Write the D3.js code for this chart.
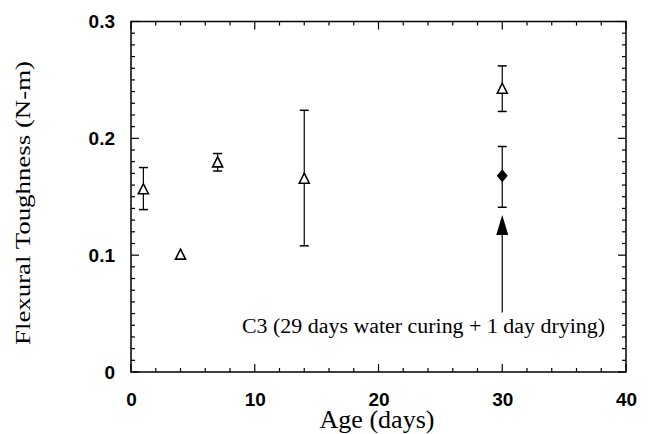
<!DOCTYPE html>
<html>
<head>
<meta charset="utf-8">
<script src="https://cdn.jsdelivr.net/npm/d3@7"></script>
<style>
  body { margin: 0; background: #fff; }
</style>
</head>
<body>
<div id="chart"></div>
<script>
// open triangles: water cured specimens
var ages = [1, 4, 7, 14, 30];
var toughness = [0.156, 0.100, 0.179, 0.165, 0.242];
var errHigh = [0.175, 0.101, 0.187, 0.224, 0.262];
var errLow = [0.139, 0.099, 0.172, 0.108, 0.223];

// filled diamond at 30 days
var diamondAge = [30];
var diamondVal = [0.168];
var diamondHigh = [0.193];
var diamondLow = [0.141];

// C3 filled triangle (29 days water curing + 1 day drying)
var c3Age = [30];
var c3Val = [0.125];
var c3Low = [0.051];

var xTicks = [0, 10, 20, 30, 40];
var yTicks = [0, 0.1, 0.2, 0.3];

var width = 652, height = 434;
var plotLeft = 131, plotRight = 626, plotTop = 21.5, plotBottom = 372;

var svg = d3.select("#chart").append("svg")
  .attr("width", width)
  .attr("height", height);

var xScale = d3.scaleLinear().domain([0, 40]).range([plotLeft, plotRight]);
var yScale = d3.scaleLinear().domain([0, 0.3]).range([plotBottom, plotTop]);

// frame
svg.append("rect")
  .attr("x", plotLeft).attr("y", plotTop)
  .attr("width", plotRight - plotLeft).attr("height", plotBottom - plotTop)
  .attr("fill", "none").attr("stroke", "#000").attr("stroke-width", 1.5);

// inward ticks on all four sides
var xMinor = d3.range(0, 41, 2);
var yMinor = d3.range(0, 31, 1).map(function(d){ return d / 100; });

xMinor.forEach(function(d){
  var len = d % 10 === 0 ? 8 : 4;
  svg.append("line")
    .attr("x1", xScale(d)).attr("x2", xScale(d))
    .attr("y1", plotBottom).attr("y2", plotBottom - len)
    .attr("stroke", "#000").attr("stroke-width", 1.2);
  svg.append("line")
    .attr("x1", xScale(d)).attr("x2", xScale(d))
    .attr("y1", plotTop).attr("y2", plotTop + len)
    .attr("stroke", "#000").attr("stroke-width", 1.2);
});

yMinor.forEach(function(d, i){
  var len = i % 10 === 0 ? 8 : 4;
  svg.append("line")
    .attr("x1", plotLeft).attr("x2", plotLeft + len)
    .attr("y1", yScale(d)).attr("y2", yScale(d))
    .attr("stroke", "#000").attr("stroke-width", 1.2);
  svg.append("line")
    .attr("x1", plotRight).attr("x2", plotRight - len)
    .attr("y1", yScale(d)).attr("y2", yScale(d))
    .attr("stroke", "#000").attr("stroke-width", 1.2);
});

// tick labels
var tickFont = "'Liberation Sans', Arial, sans-serif";
var xAxis = d3.axisBottom(xScale).tickValues(xTicks).tickSize(0).tickPadding(21)
  .tickFormat(d3.format("d"));
svg.append("g")
  .attr("transform", "translate(0," + plotBottom + ")")
  .call(xAxis)
  .call(function(g){ g.select(".domain").remove(); })
  .selectAll("text")
  .style("font-family", tickFont)
  .style("font-size", "19px")
  .style("font-weight", "bold")
  .attr("fill", "#000");

var yAxis = d3.axisLeft(yScale).tickValues(yTicks).tickSize(0).tickPadding(16)
  .tickFormat(function(d){ return d === 0 ? "0" : d3.format(".1f")(d); });
svg.append("g")
  .attr("transform", "translate(" + plotLeft + ",0)")
  .call(yAxis)
  .call(function(g){ g.select(".domain").remove(); })
  .selectAll("text")
  .style("font-family", tickFont)
  .style("font-size", "19px")
  .style("font-weight", "bold")
  .attr("fill", "#000");

// axis titles
var serif = "'Liberation Serif', 'Times New Roman', serif";
svg.append("text")
  .text("Age (days)")
  .attr("x", 377).attr("y", 428)
  .attr("text-anchor", "middle")
  .attr("textLength", 115)
  .attr("lengthAdjust", "spacingAndGlyphs")
  .style("font-family", serif)
  .style("font-size", "26px");

svg.append("text")
  .text("Flexural Toughness (N-m)")
  .attr("transform", "translate(30," + 203 + ") rotate(-90)")
  .attr("text-anchor", "middle")
  .attr("textLength", 284)
  .attr("lengthAdjust", "spacingAndGlyphs")
  .style("font-family", serif)
  .style("font-size", "22px");

// error bars
function errorBar(x, lo, hi, cap) {
  svg.append("line")
    .attr("x1", xScale(x)).attr("x2", xScale(x))
    .attr("y1", yScale(lo)).attr("y2", yScale(hi))
    .attr("stroke", "#000").attr("stroke-width", 1.2);
  if (cap) {
    [lo, hi].forEach(function(v){
      svg.append("line")
        .attr("x1", xScale(x) - 4.5).attr("x2", xScale(x) + 4.5)
        .attr("y1", yScale(v)).attr("y2", yScale(v))
        .attr("stroke", "#000").attr("stroke-width", 1.5);
    });
  }
}

ages.forEach(function(a, i){ errorBar(a, errLow[i], errHigh[i], errHigh[i] - errLow[i] > 0.005); });
diamondAge.forEach(function(a, i){ errorBar(a, diamondLow[i], diamondHigh[i], true); });
c3Age.forEach(function(a, i){ errorBar(a, c3Low[i], c3Val[i], false); });

// open triangles
svg.selectAll(".tri")
  .data(ages)
  .enter().append("path")
  .attr("class", "tri")
  .attr("transform", function(d, i){ return "translate(" + xScale(d) + "," + yScale(toughness[i]) + ")"; })
  .attr("d", "M0,-6 L5,4 L-5,4 Z")
  .attr("fill", "#fff")
  .attr("stroke", "#000")
  .attr("stroke-width", 1.6);

// filled diamond
svg.selectAll(".dia")
  .data(diamondAge)
  .enter().append("path")
  .attr("class", "dia")
  .attr("transform", function(d, i){ return "translate(" + xScale(d) + "," + yScale(diamondVal[i]) + ")"; })
  .attr("d", "M0,-6.5 L5.5,0 L0,6.5 L-5.5,0 Z")
  .attr("fill", "#000");

// filled triangle (C3)
svg.selectAll(".c3")
  .data(c3Age)
  .enter().append("path")
  .attr("class", "c3")
  .attr("transform", function(d, i){ return "translate(" + xScale(d) + "," + yScale(c3Val[i]) + ")"; })
  .attr("d", "M0,-11 L6,9 L-6,9 Z")
  .attr("fill", "#000");

// annotation
svg.append("text")
  .text("C3 (29 days water curing + 1 day drying)")
  .attr("x", 242).attr("y", 333)
  .attr("textLength", 363)
  .attr("lengthAdjust", "spacingAndGlyphs")
  .style("font-family", serif)
  .style("font-size", "20px");
</script>
</body>
</html>
